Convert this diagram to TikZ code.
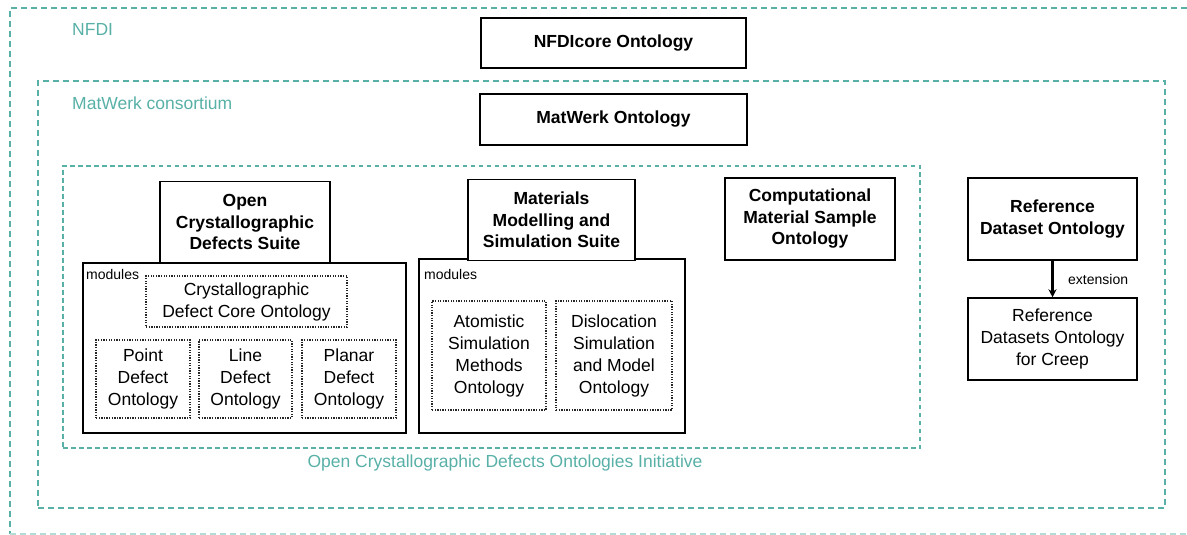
\documentclass[tikz,border=0pt]{standalone}
\usepackage{fontspec}
\setmainfont{Liberation Sans}
\usetikzlibrary{arrows.meta}
\definecolor{tealc}{RGB}{88,176,167}
\tikzset{
  grp/.style={draw=tealc, line width=1.3pt, dash pattern=on 6pt off 4pt, inner sep=0pt},
  grpline/.style={tealc, line width=1.3pt, dash pattern=on 6pt off 4pt},
  grpfine/.style={draw=tealc, line width=1.3pt, dash pattern=on 4.5pt off 3.5pt, inner sep=0pt},
  grplabel/.style={text=tealc, font=\fontsize{17.5}{21}\selectfont, inner sep=0pt},
  obox/.style={draw=black, line width=1.5pt, fill=white, align=center, inner sep=0pt,
    font=\fontsize{17.5}{21.5}\selectfont\bfseries},
  cbox/.style={draw=black, line width=1.5pt, fill=white, align=center, inner sep=0pt,
    font=\fontsize{17.5}{22}\selectfont},
  mbox/.style={draw=black!85, line width=1.2pt, dash pattern=on 1.3pt off 1.3pt, align=center, inner sep=0pt,
    font=\fontsize{17.5}{22}\selectfont},
  small/.style={font=\fontsize{14}{16}\selectfont, inner sep=0pt},
  ext/.style={line width=2.2pt, -{Stealth[length=8pt,width=8pt]}}
}
\begin{document}
\begin{tikzpicture}[x=1pt,y=-1pt]
\useasboundingbox (0,0) rectangle (1187,535);
\clip (0,0) rectangle (1187,535);
% outer NFDI frame (runs off the right edge)
\coordinate (nfdiTR) at (1187,8);
\coordinate (nfdiTL) at (10,8);
\coordinate (nfdiBL) at (10,534);
\coordinate (nfdiBR) at (1187,534);
\draw[grpline] (nfdiTR) -- (nfdiTL) -- (nfdiBL);
\draw[grpline, tealc!45] (nfdiBL) -- (nfdiBR);
% group boxes
\node[grp, minimum width=1127, minimum height=427] (matwerkc) at (601.5,294.5) {};
\node[grpfine, minimum width=857, minimum height=282] (ocdo) at (491.5,307) {};
\node[grplabel, anchor=west] (nfdilab) at (72,29) {NFDI};
\node[grplabel, anchor=west] (mwlab) at (72,103) {MatWerk consortium};
\node[grplabel] (ocdolab) at (505,463) {Open Crystallographic Defects Ontologies Initiative};
% top ontologies
\node[obox, minimum width=265, minimum height=50] (nfdicore) at (613.5,43) {NFDIcore Ontology};
\node[obox, minimum width=267, minimum height=51] (matwerk) at (613.5,119.5) {MatWerk Ontology};
% OCDS
\node[cbox, minimum width=323, minimum height=170] (ocdsmod) at (244.5,348) {};
\node[obox, minimum width=170, minimum height=81] (ocds) at (245,222) {Open\\Crystallographic\\Defects Suite};
\node[small, anchor=west] (ocdsmodlab) at (86,274) {modules};
\node[mbox, minimum width=201, minimum height=51] (core) at (246.5,301.5) {Crystallographic\\Defect Core Ontology};
\node[mbox, minimum width=94, minimum height=78] (point) at (143,379) {Point\\Defect\\Ontology};
\node[mbox, minimum width=93, minimum height=78] (linedef) at (245.5,379) {Line\\Defect\\Ontology};
\node[mbox, minimum width=94, minimum height=78] (planar) at (349,379) {Planar\\Defect\\Ontology};
% MMSS
\node[cbox, minimum width=266, minimum height=174] (mmssmod) at (552,346) {};
\node[obox, minimum width=167, minimum height=81] (mmss) at (551.5,220) {Materials\\Modelling and\\Simulation Suite};
\node[small, anchor=west] (mmssmodlab) at (424,274) {modules};
\node[mbox, minimum width=114, minimum height=109] (atom) at (489,355.5) {Atomistic\\Simulation\\Methods\\Ontology};
\node[mbox, minimum width=116, minimum height=109] (disl) at (614,355.5) {Dislocation\\Simulation\\and Model\\Ontology};
% CMSO
\node[obox, minimum width=170, minimum height=82] (cmso) at (810,219) {Computational\\Material Sample\\Ontology};
% Reference datasets
\node[obox, minimum width=169, minimum height=82] (rdo) at (1052.5,219) {Reference\\Dataset Ontology};
\node[cbox, minimum width=169, minimum height=82] (rdoc) at (1052.5,339) {Reference\\Datasets Ontology\\for Creep};
\draw[ext] (rdo.south) -- (rdoc.north);
\node[small, anchor=west] (extlab) at (1068,279) {extension};
\end{tikzpicture}
\end{document}
